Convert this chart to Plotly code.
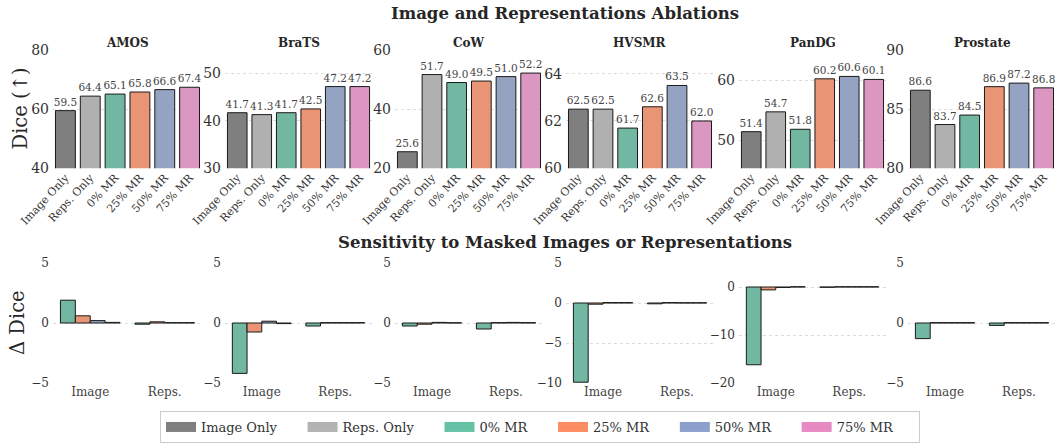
import plotly.graph_objects as go
from plotly.subplots import make_subplots

W, H = 1060, 443

# ---------------- data ----------------
datasets = ["AMOS", "BraTS", "CoW", "HVSMR", "PanDG", "Prostate"]
categories = ["Image Only", "Reps. Only", "0% MR", "25% MR", "50% MR", "75% MR"]

dice_amos = [59.5, 64.4, 65.1, 65.8, 66.6, 67.4]
dice_brats = [41.7, 41.3, 41.7, 42.5, 47.2, 47.2]
dice_cow = [25.6, 51.7, 49.0, 49.5, 51.0, 52.2]
dice_hvsmr = [62.5, 62.5, 61.7, 62.6, 63.5, 62.0]
dice_pandg = [51.4, 54.7, 51.8, 60.2, 60.6, 60.1]
dice_prostate = [86.6, 83.7, 84.5, 86.9, 87.2, 86.8]

mask_groups = ["Image", "Reps."]
mask_rates = ["0% MR", "25% MR", "50% MR", "75% MR"]

# delta dice per mask rate (0%, 25%, 50%, 75%)
delta_image_amos = [1.9, 0.6, 0.2, 0.05]
delta_reps_amos = [-0.1, 0.1, 0.03, 0.03]
delta_image_brats = [-4.2, -0.75, 0.15, -0.05]
delta_reps_brats = [-0.25, 0.03, 0.03, 0.03]
delta_image_cow = [-0.25, -0.1, 0.05, 0.02]
delta_reps_cow = [-0.5, 0.03, 0.05, 0.03]
delta_image_hvsmr = [-9.9, -0.15, 0.05, 0.05]
delta_reps_hvsmr = [-0.1, 0.05, 0.03, 0.03]
delta_image_pandg = [-16.2, -0.6, -0.1, 0.05]
delta_reps_pandg = [-0.05, 0.05, 0.05, 0.05]
delta_image_prostate = [-1.3, 0.03, 0.03, 0.03]
delta_reps_prostate = [-0.2, 0.03, 0.03, 0.03]

# axis settings
top_ranges = [[40, 80], [30, 54.9], [20, 60], [60, 65], [45.3, 65], [80, 90]]
top_ticks = [[40, 60, 80], [30, 40, 50], [20, 40, 60], [60, 62, 64], [50, 60], [80, 85, 90]]
bot_ranges = [[-5, 5], [-5, 5], [-5, 5], [-10, 5], [-20, 5], [-5, 5]]
bot_ticks = [[-5, 0, 5], [-5, 0, 5], [-5, 0, 5], [-10, -5, 0, 5], [-20, -10, 0], [-5, 0, 5]]

bar_colors = ["#7f7f7f", "#b0b0b0", "#71b7a1", "#e99575", "#95a3c3", "#db96c1"]
legend_colors = ["#7f7f7f", "#b3b3b3", "#66c2a5", "#fc8d62", "#8da0cb", "#e78ac3"]

top_values = [dice_amos, dice_brats, dice_cow, dice_hvsmr, dice_pandg, dice_prostate]
bot_image = [delta_image_amos, delta_image_brats, delta_image_cow,
             delta_image_hvsmr, delta_image_pandg, delta_image_prostate]
bot_reps = [delta_reps_amos, delta_reps_brats, delta_reps_cow,
            delta_reps_hvsmr, delta_reps_pandg, delta_reps_prostate]

# ---------------- layout geometry (pixels) ----------------
col_px = [(53, 202), (225, 372), (395, 543), (566, 714), (739, 886), (908, 1056)]
top_px = (50, 168.3)
bot_px = (263, 383)

FONT = "DejaVu Serif"
TXT = "#262626"
TICK = "#333333"

fig = make_subplots(rows=2, cols=6)

for i in range(6):
    fig.add_trace(go.Bar(
        x=categories, y=top_values[i],
        marker=dict(color=bar_colors, line=dict(color="#1a1a1a", width=1)),
        width=0.8,
        text=[f"{v:.1f}" for v in top_values[i]],
        textposition="outside", constraintext="none", cliponaxis=False,
        textfont=dict(family=FONT, size=10.5, color="#444444"),
        showlegend=False, hoverinfo="skip",
    ), row=1, col=i + 1)
    for k in range(4):
        fig.add_trace(go.Bar(
            x=mask_groups, y=[bot_image[i][k], bot_reps[i][k]],
            marker=dict(color=bar_colors[k + 2], line=dict(color="#1a1a1a", width=1)),
            showlegend=False, hoverinfo="skip",
        ), row=2, col=i + 1)

# legend entries
PAD = "\u00a0" * 5
for c, col in zip(categories, legend_colors):
    fig.add_trace(go.Scatter(x=[None], y=[None], mode="lines", name=c + PAD,
                             line=dict(color=col, width=10)), row=1, col=1)

def xdom(p):
    return [p[0] / W, p[1] / W]

def ydom(p):
    return [1 - p[1] / H, 1 - p[0] / H]

for i in range(6):
    # top row
    fig.update_xaxes(domain=xdom(col_px[i]), range=[-0.5, 5.5], showgrid=False,
                     showline=False, zeroline=False, tickangle=-47,
                     tickfont=dict(family=FONT, size=11, color=TICK),
                     ticks="", automargin=False, row=1, col=i + 1)
    fig.update_yaxes(domain=ydom(top_px), range=top_ranges[i], tickvals=top_ticks[i],
                     showgrid=True, gridcolor="#dddddd", griddash="dot", gridwidth=1,
                     zeroline=False, showline=False, ticks="", automargin=False,
                     ticklabelstandoff=3,
                     tickfont=dict(family=FONT, size=14, color=TICK),
                     row=1, col=i + 1)
    # bottom row
    fig.update_xaxes(domain=xdom(col_px[i]), range=[-0.5, 1.5], showgrid=False,
                     showline=False, zeroline=False, automargin=False,
                     tickfont=dict(family=FONT, size=12, color="#444444"),
                     ticks="", row=2, col=i + 1)
    fig.update_yaxes(domain=ydom(bot_px), range=bot_ranges[i], tickvals=bot_ticks[i],
                     showgrid=True, gridcolor="#dddddd", griddash="dot", gridwidth=1,
                     zeroline=False, showline=False, ticks="", automargin=False,
                     ticklabelstandoff=3,
                     tickfont=dict(family=FONT, size=12, color=TICK),
                     row=2, col=i + 1)

annotations = []
for i, name in enumerate(datasets):
    cx = (col_px[i][0] + col_px[i][1]) / 2
    annotations.append(dict(x=cx / W, y=1 - 43 / H, xref="paper", yref="paper",
                            text=f"<b>{name}</b>", showarrow=False,
                            font=dict(family=FONT, size=12, color=TXT),
                            xanchor="center", yanchor="middle"))
annotations += [
    dict(x=565 / W, y=1 - 14 / H, xref="paper", yref="paper",
         text="<b>Image and Representations Ablations</b>", showarrow=False,
         font=dict(family=FONT, size=16.5, color=TXT), xanchor="center", yanchor="middle"),
    dict(x=565 / W, y=1 - 242 / H, xref="paper", yref="paper",
         text="<b>Sensitivity to Masked Images or Representations</b>", showarrow=False,
         font=dict(family=FONT, size=16.5, color=TXT), xanchor="center", yanchor="middle"),
    dict(x=19.5 / W, y=1 - 109 / H, xref="paper", yref="paper", text="Dice (↑)",
         textangle=-90, showarrow=False, font=dict(family=FONT, size=19.5, color=TXT),
         xanchor="center", yanchor="middle"),
    dict(x=17 / W, y=1 - 323 / H, xref="paper", yref="paper", text="Δ Dice",
         textangle=-90, showarrow=False, font=dict(family=FONT, size=19.5, color=TXT),
         xanchor="center", yanchor="middle"),
]

fig.update_layout(
    width=W, height=H,
    margin=dict(l=0, r=0, t=0, b=0, autoexpand=False),
    paper_bgcolor="white", plot_bgcolor="white",
    barmode="group", bargap=0.2, bargroupgap=0,
    font=dict(family=FONT, color=TXT),
    annotations=annotations,
    legend=dict(orientation="h", x=540 / W, xanchor="center", y=0.0, yanchor="bottom",
                bordercolor="#cccccc", borderwidth=1, bgcolor="white",
                font=dict(family=FONT, size=13, color=TICK)),
)

fig.write_html("out.html", config={"displayModeBar": False},
               post_script="document.body.style.margin='0';document.body.style.overflow='hidden';")
